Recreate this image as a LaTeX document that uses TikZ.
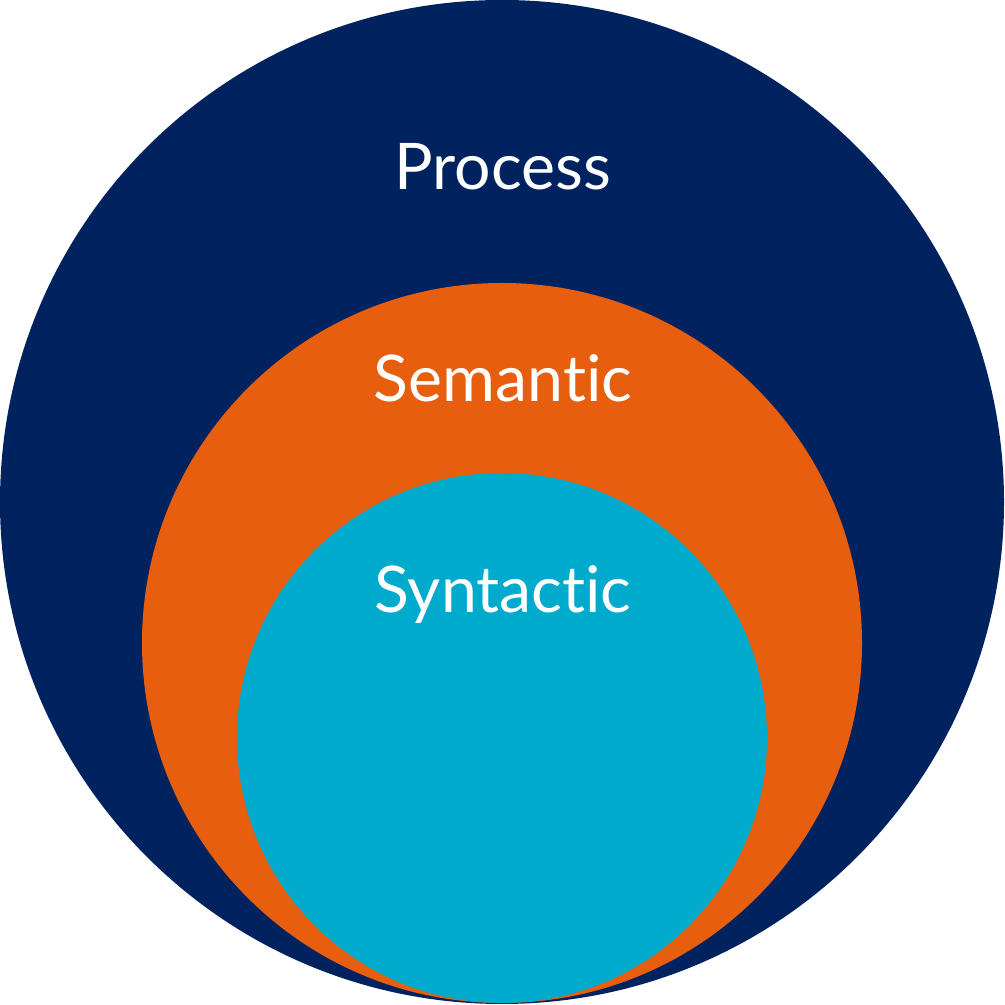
\documentclass[tikz,border=0pt]{standalone}
\usepackage{fontspec}
\setmainfont[Ligatures=NoCommon]{Lato}
\definecolor{navy}{HTML}{00235F}
\definecolor{orng}{HTML}{E85E0F}
\definecolor{cyn}{HTML}{00AACC}
\begin{document}
\begin{tikzpicture}
\tikzset{ring/.style={circle, inner sep=0pt}, lbl/.style={text=white, font=\fontsize{18.3}{20}\selectfont, anchor=base}}
\useasboundingbox (0,0) rectangle (10.05,10.05);
\node[ring, fill=navy, minimum size=10.04cm] (process) at (5.02,5.03) {};
\node[ring, fill=orng, minimum size=7.20cm] (semantic) at (5.02,3.62) {};
\node[ring, fill=cyn, minimum size=5.30cm] (syntactic) at (5.02,2.67) {};
\node[lbl] (tp) at (5.03,8.15) {Process};
\node[lbl] (ts) at (5.03,6.03) {Semantic};
\node[lbl] (ty) at (5.03,3.92) {Syntactic};
\end{tikzpicture}
\end{document}
